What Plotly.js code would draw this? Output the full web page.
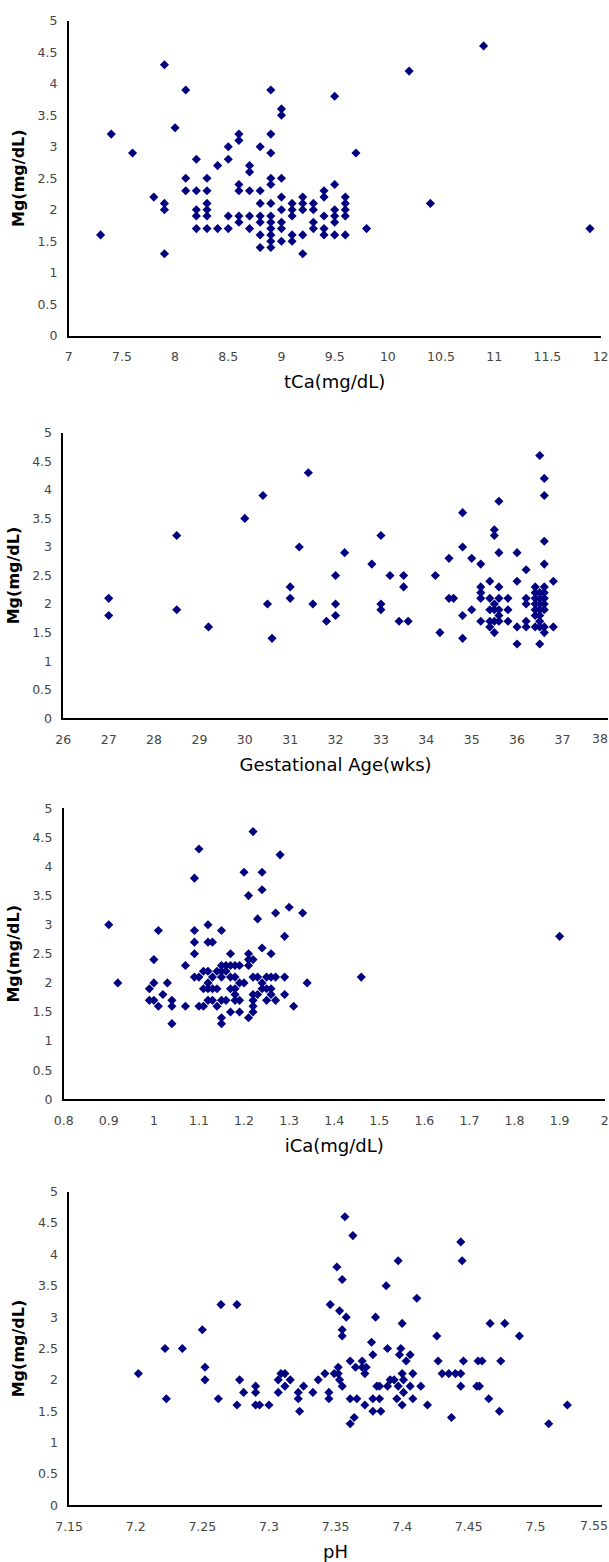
<!DOCTYPE html>
<html>
<head>
<meta charset="utf-8">
<script src="https://cdn.plot.ly/plotly-3.0.1.min.js"></script>
<style>html,body{margin:0;padding:0;background:#fff;}#chart{width:609px;height:1562px;}</style>
</head>
<body>
<div id="chart"></div>
<script>
// ---------- Data ----------
// Panel 1: tCa vs Mg
const tCa = [
  7.3, 7.4, 7.6, 7.8,
  7.9, 7.9, 7.9, 7.9,
  8.0,
  8.1, 8.1, 8.1,
  8.2, 8.2, 8.2, 8.2, 8.2,
  8.3, 8.3, 8.3, 8.3, 8.3, 8.3,
  8.4, 8.4,
  8.5, 8.5, 8.5, 8.5,
  8.6, 8.6, 8.6, 8.6, 8.6, 8.6,
  8.7, 8.7, 8.7, 8.7, 8.7,
  8.8, 8.8, 8.8, 8.8, 8.8, 8.8, 8.8,
  8.9, 8.9, 8.9, 8.9, 8.9, 8.9, 8.9, 8.9, 8.9, 8.9, 8.9, 8.9,
  9.0, 9.0, 9.0, 9.0, 9.0, 9.0, 9.0, 9.0,
  9.1, 9.1, 9.1, 9.1, 9.1,
  9.2, 9.2, 9.2, 9.2, 9.2,
  9.3, 9.3, 9.3, 9.3,
  9.4, 9.4, 9.4, 9.4, 9.4,
  9.5, 9.5, 9.5, 9.5, 9.5, 9.5,
  9.6, 9.6, 9.6, 9.6, 9.6,
  9.7, 9.8, 10.2, 10.4, 10.9, 11.9
];
const mgByTCa = [
  1.6, 3.2, 2.9, 2.2,
  4.3, 2.1, 2.0, 1.3,
  3.3,
  3.9, 2.5, 2.3,
  2.8, 2.3, 2.0, 1.9, 1.7,
  2.5, 2.3, 2.1, 2.0, 1.9, 1.7,
  2.7, 1.7,
  3.0, 2.8, 1.9, 1.7,
  3.2, 3.1, 2.4, 2.3, 1.9, 1.8,
  2.7, 2.6, 2.3, 1.9, 1.7,
  3.0, 2.3, 2.1, 1.9, 1.8, 1.6, 1.4,
  3.9, 3.2, 2.9, 2.5, 2.4, 2.1, 1.9, 1.8, 1.7, 1.6, 1.5, 1.4,
  3.6, 3.5, 2.5, 2.2, 2.0, 1.8, 1.7, 1.5,
  2.1, 2.0, 1.9, 1.6, 1.5,
  2.2, 2.1, 2.0, 1.6, 1.3,
  2.1, 2.0, 1.8, 1.7,
  2.3, 2.2, 1.9, 1.7, 1.6,
  3.8, 2.4, 2.0, 1.9, 1.8, 1.6,
  2.2, 2.1, 2.0, 1.9, 1.6,
  2.9, 1.7, 4.2, 2.1, 4.6, 1.7
];

// Panel 2: Gestational age vs Mg
const gestAge = [
  27.0, 27.0, 28.5, 28.5, 29.2, 30.0, 30.4, 30.5, 30.6,
  31.0, 31.0, 31.2, 31.4, 31.5, 31.8,
  32.0, 32.0, 32.0, 32.2, 32.8,
  33.0, 33.0, 33.0, 33.2, 33.4, 33.5, 33.5, 33.6,
  34.2, 34.3, 34.5, 34.5, 34.6,
  34.8, 34.8, 34.8, 34.8,
  35.0, 35.0,
  35.2, 35.2, 35.2, 35.2, 35.2,
  35.4, 35.4, 35.4, 35.4, 35.4,
  35.5, 35.5, 35.5, 35.5, 35.5, 35.5,
  35.6, 35.6, 35.6, 35.6, 35.6, 35.6, 35.6,
  35.8, 35.8, 35.8,
  36.0, 36.0, 36.0, 36.0,
  36.2, 36.2, 36.2, 36.2, 36.2,
  36.4, 36.4, 36.4, 36.4, 36.4, 36.4, 36.4,
  36.5, 36.5, 36.5, 36.5, 36.5, 36.5, 36.5, 36.5, 36.5,
  36.6, 36.6, 36.6, 36.6, 36.6, 36.6, 36.6, 36.6, 36.6, 36.6, 36.6,
  36.8, 36.8
];
const mgByGA = [
  2.1, 1.8, 3.2, 1.9, 1.6, 3.5, 3.9, 2.0, 1.4,
  2.3, 2.1, 3.0, 4.3, 2.0, 1.7,
  2.5, 2.0, 1.8, 2.9, 2.7,
  3.2, 2.0, 1.9, 2.5, 1.7, 2.5, 2.3, 1.7,
  2.5, 1.5, 2.8, 2.1, 2.1,
  3.6, 3.0, 1.8, 1.4,
  2.8, 1.9,
  2.7, 2.3, 2.2, 2.1, 1.7,
  2.4, 2.1, 1.9, 1.7, 1.6,
  3.3, 3.2, 2.0, 1.9, 1.7, 1.5,
  3.8, 2.9, 2.3, 2.1, 1.9, 1.8, 1.7,
  2.1, 1.9, 1.7,
  2.9, 2.4, 1.6, 1.3,
  2.6, 2.1, 2.0, 1.7, 1.6,
  2.3, 2.2, 2.1, 2.0, 1.9, 1.8, 1.6,
  4.6, 2.2, 2.1, 2.0, 1.9, 1.8, 1.7, 1.6, 1.3,
  4.2, 3.9, 3.1, 2.7, 2.3, 2.2, 2.1, 2.0, 1.9, 1.6, 1.5,
  2.4, 1.6
];

// Panel 3: iCa vs Mg
const iCa = [
  0.90, 0.92, 0.99, 0.99, 1.00, 1.00, 1.00, 1.01, 1.01, 1.02, 1.03,
  1.04, 1.04, 1.04, 1.07, 1.07,
  1.09, 1.09, 1.09, 1.09, 1.09,
  1.10, 1.10, 1.10,
  1.11, 1.11, 1.11,
  1.12, 1.12, 1.12, 1.12, 1.12, 1.12,
  1.13, 1.13, 1.13, 1.13,
  1.14, 1.14, 1.14,
  1.15, 1.15, 1.15, 1.15, 1.15, 1.15, 1.15,
  1.16, 1.16, 1.16,
  1.17, 1.17, 1.17, 1.17, 1.17,
  1.18, 1.18, 1.18, 1.18, 1.18,
  1.19, 1.19, 1.19, 1.19,
  1.20, 1.20,
  1.21, 1.21, 1.21, 1.21, 1.21,
  1.22, 1.22, 1.22, 1.22, 1.22, 1.22, 1.22,
  1.23, 1.23, 1.23,
  1.24, 1.24, 1.24, 1.24, 1.24,
  1.25, 1.25, 1.25,
  1.26, 1.26, 1.26, 1.26,
  1.27, 1.27, 1.27,
  1.28, 1.29, 1.29, 1.29, 1.30, 1.31, 1.33, 1.34, 1.46, 1.90
];
const mgByICa = [
  3.0, 2.0, 1.9, 1.7, 2.4, 2.0, 1.7, 2.9, 1.6, 1.8, 2.0,
  1.7, 1.6, 1.3, 2.3, 1.6,
  3.8, 2.9, 2.7, 2.5, 2.1,
  4.3, 2.1, 1.6,
  2.2, 1.9, 1.6,
  3.0, 2.7, 2.2, 2.0, 1.9, 1.7,
  2.7, 2.1, 1.9, 1.7,
  2.2, 1.9, 1.6,
  2.9, 2.3, 2.2, 2.1, 1.7, 1.4, 1.3,
  2.3, 2.2, 1.7,
  2.5, 2.3, 2.1, 1.9, 1.5,
  2.3, 2.1, 1.9, 1.8, 1.7,
  2.3, 2.0, 1.7, 1.5,
  3.9, 2.0,
  3.5, 2.5, 2.4, 2.3, 1.4,
  4.6, 2.4, 2.1, 1.8, 1.7, 1.6, 1.5,
  3.1, 2.1, 1.8,
  3.9, 3.6, 2.6, 2.0, 1.9,
  2.1, 1.9, 1.7,
  2.5, 2.1, 1.9, 1.8,
  3.2, 2.1, 1.7,
  4.2, 2.8, 2.1, 1.8, 3.3, 1.6, 3.2, 2.0, 2.1, 2.8
];

// Panel 4: pH vs Mg
const pH = [
  7.202, 7.222, 7.223, 7.235, 7.250, 7.252, 7.252, 7.262, 7.264, 7.276,
  7.276, 7.278, 7.281, 7.290, 7.290, 7.290, 7.293, 7.300, 7.307, 7.307,
  7.309, 7.312, 7.312, 7.316, 7.322, 7.322, 7.323, 7.326, 7.333, 7.337,
  7.342, 7.345, 7.345, 7.346, 7.349, 7.351, 7.352, 7.352, 7.353, 7.353,
  7.355, 7.355, 7.355, 7.355, 7.357, 7.358, 7.361, 7.361, 7.361, 7.363,
  7.364, 7.365, 7.366, 7.370, 7.370, 7.373, 7.372, 7.372, 7.377, 7.378,
  7.378, 7.378, 7.380, 7.381, 7.383, 7.383, 7.384, 7.388, 7.389, 7.389,
  7.391, 7.394, 7.396, 7.397, 7.397, 7.398, 7.399, 7.400, 7.400, 7.401,
  7.401, 7.400, 7.403, 7.406, 7.406, 7.408, 7.408, 7.411, 7.414, 7.419,
  7.426, 7.427, 7.430, 7.435, 7.440, 7.437, 7.444, 7.444, 7.444, 7.445,
  7.446, 7.457, 7.460, 7.456, 7.458, 7.465, 7.466, 7.473, 7.474, 7.477,
  7.488, 7.510, 7.524
];
const mgByPH = [
  2.1, 2.5, 1.7, 2.5, 2.8, 2.2, 2.0, 1.7, 3.2, 3.2,
  1.6, 2.0, 1.8, 1.9, 1.8, 1.6, 1.6, 1.6, 1.8, 2.0,
  2.1, 2.1, 1.9, 2.0, 1.8, 1.7, 1.5, 1.9, 1.8, 2.0,
  2.1, 1.8, 1.7, 3.2, 2.1, 3.8, 2.2, 2.1, 2.0, 3.1,
  1.9, 2.8, 2.7, 3.6, 4.6, 3.0, 2.3, 1.7, 1.3, 4.3,
  1.4, 2.2, 1.7, 2.3, 2.2, 2.2, 2.1, 1.6, 2.6, 2.4,
  1.7, 1.5, 3.0, 1.9, 1.9, 1.7, 1.5, 3.5, 2.5, 1.9,
  2.0, 2.0, 1.7, 1.9, 3.9, 2.4, 2.5, 2.9, 2.1, 2.0,
  1.8, 1.6, 2.3, 2.4, 1.9, 2.1, 1.7, 3.3, 1.9, 1.6,
  2.7, 2.3, 2.1, 2.1, 2.1, 1.4, 2.1, 1.9, 4.2, 3.9,
  2.3, 2.3, 2.3, 1.9, 1.9, 1.7, 2.9, 1.5, 2.3, 2.9,
  2.7, 1.3, 1.6
];

// Tick values / labels
const mgTicks = [0, 0.5, 1, 1.5, 2, 2.5, 3, 3.5, 4, 4.5, 5];
const mgTickText = ['0', '0.5', '1', '1.5', '2', '2.5', '3', '3.5', '4', '4.5', '5'];
const tCaTicks = [7, 7.5, 8, 8.5, 9, 9.5, 10, 10.5, 11, 11.5, 12];
const tCaTickText = ['7', '7.5', '8', '8.5', '9', '9.5', '10', '10.5', '11', '11.5', '12'];
const gaTicks = [26, 27, 28, 29, 30, 31, 32, 33, 34, 35, 36, 37, 38];
const gaTickText = ['26', '27', '28', '29', '30', '31', '32', '33', '34', '35', '36', '37', '38'];
const iCaTicks = [0.8, 0.9, 1, 1.1, 1.2, 1.3, 1.4, 1.5, 1.6, 1.7, 1.8, 1.9, 2];
const iCaTickText = ['0.8', '0.9', '1', '1.1', '1.2', '1.3', '1.4', '1.5', '1.6', '1.7', '1.8', '1.9', '2'];
const pHTicks = [7.15, 7.2, 7.25, 7.3, 7.35, 7.4, 7.45, 7.5, 7.55];
const pHTickText = ['7.15', '7.2', '7.25', '7.3', '7.35', '7.4', '7.45', '7.5', '7.55'];

const xTitles = ['tCa(mg/dL)', 'Gestational Age(wks)', 'iCa(mg/dL)', 'pH'];
const yTitle = 'Mg(mg/dL)';

// ---------- Build ----------
const W = 609, H = 1562;
const panels = [
  {x: tCa, y: mgByTCa, range: [7, 12], tv: tCaTicks, tt: tCaTickText, px: [68.7, 600.6], py: [20.7, 335.7], edgeLast: false},
  {x: gestAge, y: mgByGA, range: [26, 38], tv: gaTicks, tt: gaTickText, px: [63.3, 607.8], py: [432.7, 718.3], edgeLast: true},
  {x: iCa, y: mgByICa, range: [0.8, 2], tv: iCaTicks, tt: iCaTickText, px: [63.7, 604.7], py: [808.3, 1099.3], edgeLast: false},
  {x: pH, y: mgByPH, range: [7.15, 7.55], tv: pHTicks, tt: pHTickText, px: [69.1, 602.0], py: [1191.7, 1505.3], edgeLast: true}
];

const tickFont = {family: 'DejaVu Sans, sans-serif', size: 12.5, color: '#454545'};
const traces = [];
const annotations = [];
const layout = {
  width: W, height: H,
  margin: {l: 0, r: 0, t: 0, b: 0, pad: 0},
  paper_bgcolor: '#ffffff', plot_bgcolor: '#ffffff',
  showlegend: false
};

panels.forEach((p, i) => {
  const n = i === 0 ? '' : String(i + 1);
  traces.push({
    type: 'scatter', mode: 'markers',
    x: p.x, y: p.y,
    xaxis: 'x' + n, yaxis: 'y' + n,
    marker: {symbol: 'diamond', size: 7, color: '#000080', line: {width: 0}},
    hoverinfo: 'x+y'
  });
  const axBase = {
    showline: true, linecolor: '#000', linewidth: 1.5,
    showgrid: false, zeroline: false,
    ticks: 'outside', ticklen: 7, tickcolor: 'rgba(0,0,0,0)',
    tickfont: tickFont, fixedrange: true
  };
  // the last x label sits on the page edge: draw it right-aligned so it stays whole
  const tt = p.tt.slice();
  if (p.edgeLast) {
    const last = tt[tt.length - 1];
    tt[tt.length - 1] = '';
    annotations.push({
      text: last, xref: 'paper', yref: 'paper',
      x: 1, xanchor: 'right', y: 1 - p.py[1] / H, yanchor: 'middle', yshift: -20.5,
      showarrow: false, font: tickFont, borderpad: 0
    });
  }
  layout['xaxis' + n] = Object.assign({}, axBase, {
    domain: [p.px[0] / W, p.px[1] / W],
    range: p.range, tickmode: 'array', tickvals: p.tv, ticktext: tt,
    anchor: 'y' + n, ticklen: 9,
    title: {text: xTitles[i], font: {family: 'DejaVu Sans, sans-serif', size: 18, color: '#000'}, standoff: 12}
  });
  layout['yaxis' + n] = Object.assign({}, axBase, {
    domain: [1 - p.py[1] / H, 1 - p.py[0] / H],
    range: [0, 5], tickmode: 'array', tickvals: mgTicks, ticktext: mgTickText,
    anchor: 'x' + n,
    title: {text: yTitle, font: {family: 'DejaVu Sans, sans-serif', size: 16, color: '#000', weight: 'bold'}, standoff: 9}
  });
});
layout.annotations = annotations;

Plotly.newPlot('chart', traces, layout, {displayModeBar: false});
</script>
</body>
</html>
